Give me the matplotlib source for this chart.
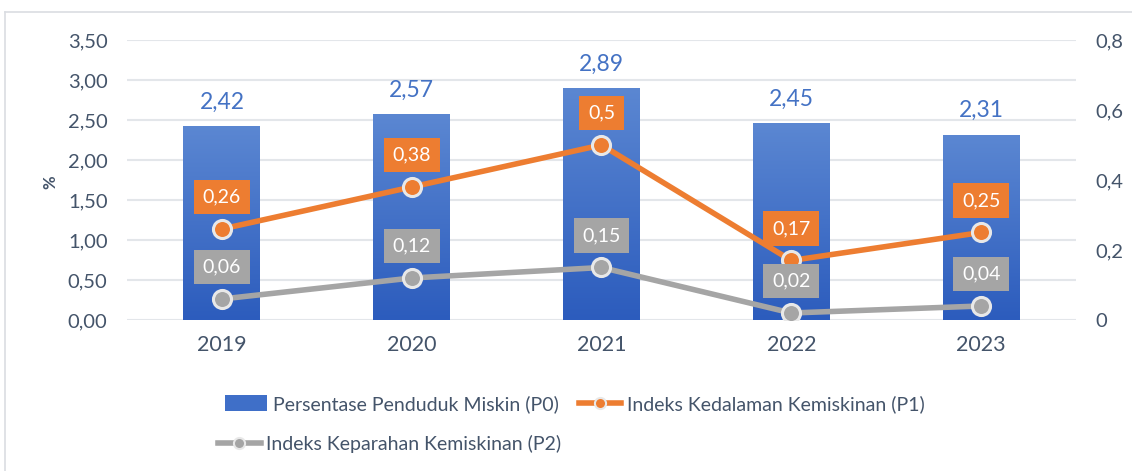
import numpy as np
import matplotlib.pyplot as plt
from matplotlib.lines import Line2D
from matplotlib.patches import Patch

years = ['2019', '2020', '2021', '2022', '2023']
p0 = [2.42, 2.57, 2.89, 2.45, 2.31]
p1 = [0.26, 0.38, 0.5, 0.17, 0.25]
p2 = [0.06, 0.12, 0.15, 0.02, 0.04]
p1_labels = ['0,26', '0,38', '0,5', '0,17', '0,25']
p2_labels = ['0,06', '0,12', '0,15', '0,02', '0,04']
left_ticks = [0, 0.5, 1.0, 1.5, 2.0, 2.5, 3.0, 3.5]
right_ticks = [0, 0.2, 0.4, 0.6, 0.8]

BLUE_TOP = np.array([0x5B, 0x87, 0xD2]) / 255
BLUE_BOT = np.array([0x2C, 0x5C, 0xBD]) / 255
ORANGE = '#ED7D31'
GRAY = '#A5A5A5'
TXT = '#44546A'
GRID = '#E3E6EA'

plt.rcParams['font.family'] = ['Lato', 'DejaVu Sans']

fig = plt.figure(figsize=(11.32, 4.71), dpi=100)
ax = fig.add_axes([0.1122, 0.3206, 0.8383, 0.5945])
ax2 = ax.twinx()

x = np.arange(len(years))
width = 0.405

# vertical gradient for the bars
grad = np.linspace(0, 1, 256)[:, None]
cols = BLUE_BOT[None, :] * (1 - grad) + BLUE_TOP[None, :] * grad
img = cols[:, None, :]
for xi, v in zip(x, p0):
    ax.imshow(img, extent=[xi - width / 2, xi + width / 2, 0, v], origin='lower',
              aspect='auto', zorder=2)
    ax.annotate(f'{v:.2f}'.replace('.', ','), (xi, v), xytext=(0, 10),
                textcoords='offset points', ha='center', va='bottom',
                fontsize=16.5, color='#4472C4', zorder=5)

ax.set_xlim(-0.5, len(years) - 0.5)
ax.set_ylim(0, 3.5)
ax.set_yticks(left_ticks)
ax.set_yticklabels([f'{t:.2f}'.replace('.', ',') for t in left_ticks])
ax.set_xticks(x)
ax.set_xticklabels(years)
ax.grid(axis='y', color=GRID, linewidth=1.5, zorder=0)
ax.set_axisbelow(True)
ax.tick_params(axis='y', length=0, labelsize=14.5, labelcolor=TXT, pad=14)
ax.tick_params(axis='x', length=0, labelsize=15.5, labelcolor=TXT, pad=11)
fig.text(50 / 1132, 1 - 182 / 471, '%', rotation=90, ha='center', va='center',
         fontsize=12, color=TXT, fontweight='bold')

ax2.set_ylim(0, 0.8)
ax2.set_yticks(right_ticks)
ax2.set_yticklabels(['0' if t == 0 else f'{t:.1f}'.replace('.', ',') for t in right_ticks])
ax2.tick_params(axis='y', length=0, labelsize=14.5, labelcolor=TXT, pad=14)

for a in (ax, ax2):
    for s in a.spines.values():
        s.set_visible(False)

for vals, labels, col in ((p1, p1_labels, ORANGE), (p2, p2_labels, GRAY)):
    ax2.plot(x, vals, color=col, linewidth=4, marker='o', markersize=13,
             markerfacecolor=col, markeredgecolor='#E8E8E8', markeredgewidth=2.2,
             zorder=4, solid_capstyle='round')
    for xi, v, lab in zip(x, vals, labels):
        ax2.annotate(lab, (xi, v), xytext=(0, 23), textcoords='offset points',
                     ha='center', va='center', fontsize=14, color='white', zorder=6,
                     bbox=dict(boxstyle='square,pad=0.45', fc=col, ec='none'))

handles = [
    Patch(facecolor='#3F6FC8', edgecolor='none'),
    Line2D([0], [0], color=ORANGE, lw=4, marker='o', markersize=8,
           markerfacecolor=ORANGE, markeredgecolor='#E8E8E8', markeredgewidth=1.5),
    Line2D([0], [0], color=GRAY, lw=4, marker='o', markersize=8,
           markerfacecolor=GRAY, markeredgecolor='#E8E8E8', markeredgewidth=1.5),
]
fig.legend(handles[:2], ['Persentase Penduduk Miskin (P0)', 'Indeks Kedalaman Kemiskinan (P1)'],
           loc='center left', bbox_to_anchor=(0.183, 0.142), ncol=2, frameon=False,
           fontsize=14, labelcolor=TXT, handlelength=2.2, handleheight=0.9,
           handletextpad=0.3, columnspacing=1.0)
fig.legend(handles[2:], ['Indeks Keparahan Kemiskinan (P2)'],
           loc='center left', bbox_to_anchor=(0.177, 0.057), frameon=False,
           fontsize=14, labelcolor=TXT, handlelength=2.2, handletextpad=0.3)

# light outer frame
fig.add_artist(Line2D([5 / 1132, 1], [1 - 12 / 471, 1 - 12 / 471], color='#DADDE2', lw=1.2))
fig.add_artist(Line2D([5 / 1132, 5 / 1132], [0, 1 - 12 / 471], color='#DADDE2', lw=1.2))

fig.savefig('out.png', dpi=100, facecolor='white')
